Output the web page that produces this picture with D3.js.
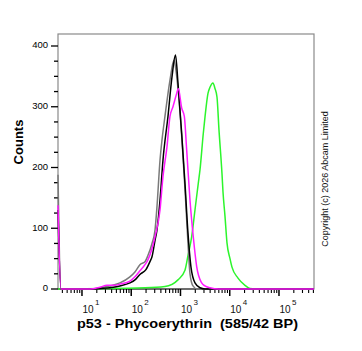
<!DOCTYPE html>
<html>
<head>
<meta charset="utf-8">
<script src="https://cdn.jsdelivr.net/npm/d3@7"></script>
<style>
  body { margin: 0; background: #fff; }
  svg { display: block; font-family: "Liberation Sans", Arial, sans-serif; }
</style>
</head>
<body>
<svg id="chart" width="362" height="351"></svg>
<script>
// fluorescence intensity (x) and event counts (y) for each histogram
var blackX = [3.26, 3.74, 14.5, 23.2, 37, 59, 94, 119, 150, 199, 240, 264, 304, 333, 384, 441, 557, 672, 792, 890, 1058, 1234, 1420, 1634, 1970, 2489, 3144, 514000];
var blackY = [130, 0, 0, 1, 2, 5, 10, 15, 24, 32, 45, 53, 80, 97, 146, 212, 284, 349, 385, 339, 256, 174, 92, 36, 10, 2, 0, 0];

var grayX = [3.26, 3.74, 14.5, 23.2, 37, 59, 94, 119, 150, 190, 218, 264, 304, 333, 384, 421, 484, 612, 738, 810, 890, 1073, 1234, 1420, 1560, 1795, 2163, 514000];
var grayY = [188, 0, 0, 2, 5, 10, 20, 28, 40, 45, 55, 75, 97, 135, 212, 245, 284, 344, 377, 360, 330, 245, 165, 75, 25, 5, 0, 0];

var magentaX = [3.26, 3.74, 14.5, 23.2, 32.2, 46.8, 59, 94, 119, 150, 190, 218, 304, 384, 441, 532, 612, 704, 837, 903, 1058, 1197, 1336, 1560, 1819, 2133, 2695, 3144, 3972, 6050, 514000];
var magentaY = [138, 0, 0, 3, 6, 6, 8, 13, 20, 30, 40, 48, 86, 130, 185, 234, 284, 300, 322, 330, 298, 284, 229, 146, 86, 37, 10, 5, 2, 0, 0];

var greenX = [3.26, 190, 484, 890, 1234, 1420, 1688, 1970, 2298, 2489, 2904, 3144, 3617, 3972, 4570, 5018, 5510, 6050, 6960, 7295, 8010, 8797, 10120, 11110, 14720, 20420, 25780, 41110, 514000];
var greenY = [0, 2, 4, 15, 31, 55, 86, 130, 174, 196, 256, 283, 322, 332, 339, 330, 316, 262, 190, 160, 120, 76, 50, 36, 18, 6, 1, 0, 0];

var yTicks = [0, 100, 200, 300, 400];
var xDecades = [1, 2, 3, 4, 5];
var xTitle = "p53 - Phycoerythrin  (585/42 BP)";
var yTitle = "Counts";
var copyright = "Copyright (c) 2026 Abcam Limited";

var svg = d3.select("#chart"),
    margin = {top: 34, right: 48, bottom: 62, left: 58},
    width = 362 - margin.left - margin.right,
    height = 351 - margin.top - margin.bottom,
    g = svg.append("g").attr("transform", "translate(" + margin.left + "," + margin.top + ")");

// 400 counts sits 12px under the top of the frame
var xScale = d3.scaleLog().domain([3.26, 514000]).range([0, width]),
    yScale = d3.scaleLinear().domain([0, 400]).range([height, 12]);

// frame
g.append("rect")
    .attr("width", width)
    .attr("height", height)
    .attr("fill", "none")
    .attr("stroke", "#8a8a8a")
    .attr("stroke-width", 1.2);

// y axis ticks
var yMinor = d3.range(0, 401, 25);
g.selectAll(".ytick")
  .data(yMinor)
  .enter().append("line")
    .attr("x1", function(d) { return d % 100 === 0 ? -7 : -4; })
    .attr("x2", 0)
    .attr("y1", function(d) { return yScale(d); })
    .attr("y2", function(d) { return yScale(d); })
    .attr("stroke", "#000")
    .attr("stroke-width", 1.3);

g.selectAll(".ylabel")
  .data(yTicks)
  .enter().append("text")
    .attr("x", -10)
    .attr("y", function(d) { return yScale(d) - 1; })
    .attr("dy", "0.35em")
    .attr("text-anchor", "end")
    .attr("font-size", 9.5)
    .text(function(d) { return d; });

// x axis ticks (log minor ticks)
var xMinor = [];
for (var e = 0; e <= 5; e++) {
  for (var m = 1; m <= 9; m++) {
    var v = m * Math.pow(10, e);
    if (v >= 3.26 && v <= 514000) xMinor.push({v: v, major: m === 1});
  }
}
g.append("line")
    .attr("x1", 0).attr("x2", width)
    .attr("y1", height).attr("y2", height)
    .attr("stroke", "#222").attr("stroke-width", 1.2);

g.selectAll(".xtick")
  .data(xMinor)
  .enter().append("line")
    .attr("x1", function(d) { return xScale(d.v); })
    .attr("x2", function(d) { return xScale(d.v); })
    .attr("y1", height)
    .attr("y2", function(d) { return height + (d.major ? 7 : 4); })
    .attr("stroke", "#000")
    .attr("stroke-width", function(d) { return d.major ? 1.5 : 1.1; });

var xl = g.selectAll(".xlabel")
  .data(xDecades)
  .enter().append("text")
    .attr("x", function(d) { return xScale(Math.pow(10, d)) + 0.5; })
    .attr("y", height + 24)
    .attr("font-size", 10)
    .attr("fill", "#111");
xl.append("tspan").text("10");
xl.append("tspan")
    .attr("dx", 1.5)
    .attr("dy", -8)
    .attr("font-size", 8)
    .text(function(d) { return d; });

// histograms
var line = d3.line()
    .x(function(d) { return xScale(d[0]); })
    .y(function(d) { return yScale(d[1]); })
    .curve(d3.curveMonotoneX);

var series = [
  {xs: greenX, ys: greenY, color: "#2cf52c"},
  {xs: grayX, ys: grayY, color: "#7a7a7a"},
  {xs: blackX, ys: blackY, color: "#000"},
  {xs: magentaX, ys: magentaY, color: "#ff1aff"}
];

g.selectAll(".hist")
  .data(series)
  .enter().append("path")
    .attr("class", "hist")
    .attr("fill", "none")
    .attr("stroke", function(d) { return d.color; })
    .attr("stroke-width", 1.5)
    .attr("stroke-linejoin", "round")
    .attr("d", function(d) { return line(d.xs.map(function(x, i) { return [x, d.ys[i]]; })); });

// titles
svg.append("text")
    .attr("x", 187.5)
    .attr("y", 328)
    .attr("text-anchor", "middle")
    .attr("font-size", 13.5)
    .attr("font-weight", "bold")
    .attr("textLength", 221)
    .attr("lengthAdjust", "spacingAndGlyphs")
    .style("white-space", "pre")
    .text(xTitle);

svg.append("text")
    .attr("transform", "translate(23,142) rotate(-90)")
    .attr("text-anchor", "middle")
    .attr("font-size", 13)
    .attr("font-weight", "bold")
    .text(yTitle);

svg.append("text")
    .attr("transform", "translate(328,179) rotate(-90)")
    .attr("text-anchor", "middle")
    .attr("font-size", 9)
    .attr("fill", "#111")
    .text(copyright);
</script>
</body>
</html>
